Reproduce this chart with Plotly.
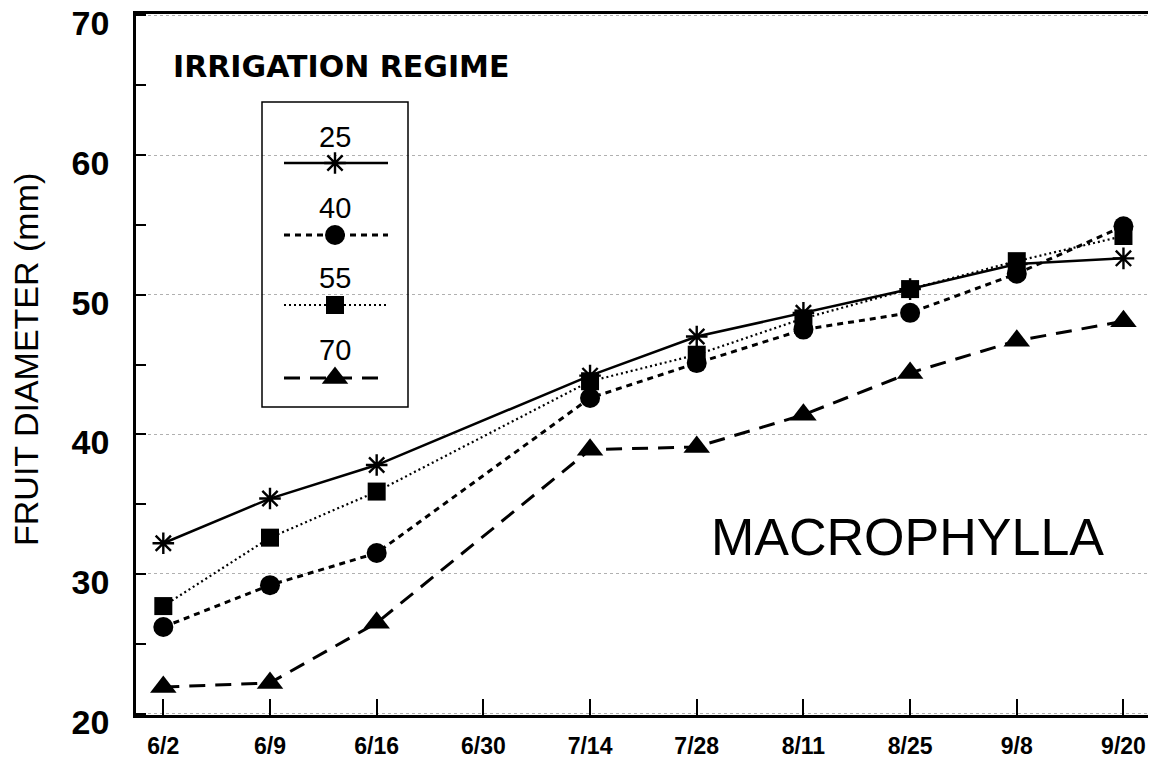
import plotly.graph_objects as go

dates = ["6/2", "6/9", "6/16", "6/30", "7/14", "7/28", "8/11", "8/25", "9/8", "9/20"]
reg25 = [32.2, 35.4, 37.8, None, 44.2, 47.0, 48.7, 50.4, 52.2, 52.6]
reg40 = [26.2, 29.2, 31.5, None, 42.6, 45.1, 47.5, 48.7, 51.5, 54.9]
reg55 = [27.7, 32.6, 35.9, None, 43.8, 45.7, 48.3, 50.4, 52.4, 54.2]
reg70 = [21.9, 22.2, 26.5, None, 38.9, 39.1, 41.4, 44.4, 46.7, 48.1]
regime_names = ["25", "40", "55", "70"]
y_ticks = [20, 30, 40, 50, 60, 70]

FONT = "Liberation Sans, Arial, sans-serif"

styles = [
    dict(dash="solid", width=2.5, symbol="asterisk-open", size=18, lw=2.4),
    dict(dash="6px,5px", width=3, symbol="circle", size=20, lw=0),
    dict(dash="2px,3px", width=2.2, symbol="square", size=18, lw=0),
    dict(dash="16px,10px", width=3, symbol="triangle-up", size=23, lw=0),
]
series = [reg25, reg40, reg55, reg70]

fig = go.Figure()
for name, vals, st in zip(regime_names, series, styles):
    fig.add_trace(go.Scatter(
        x=dates, y=vals, mode="lines+markers", name=name, connectgaps=True,
        line=dict(color="black", width=st["width"], dash=st["dash"]),
        marker=dict(symbol=st["symbol"], size=st["size"], color="black",
                    line=dict(color="black", width=st["lw"])),
        showlegend=False,
    ))

# page body has an 8px margin: figure is placed at (8, 8) in the window
OFF = 8
W, H = 1156 - OFF, 764 - OFF
# plot area in figure pixels
L0, L1 = 136 - OFF, 1148 - OFF
T0, T1 = 14 - OFF, 715 - OFF


def px(x):
    return x - OFF


leg_label_y = [137, 208, 278, 350]
leg_line_y = [163, 235, 305, 378]
for name, st, ly, sy in zip(regime_names, styles, leg_label_y, leg_line_y):
    fig.add_trace(go.Scatter(
        x=[px(284), px(335), px(388)], y=[px(sy)] * 3, xaxis="x2", yaxis="y2",
        mode="lines", line=dict(color="black", width=st["width"], dash=st["dash"]),
        showlegend=False, hoverinfo="skip"))
    fig.add_trace(go.Scatter(
        x=[px(335)], y=[px(sy)], xaxis="x2", yaxis="y2", mode="markers",
        marker=dict(symbol=st["symbol"], size=st["size"], color="black",
                    line=dict(color="black", width=st["lw"])),
        showlegend=False, hoverinfo="skip"))
    fig.add_annotation(x=px(335), y=px(ly), xref="x2", yref="y2", text=name,
                       showarrow=False,
                       font=dict(family=FONT, size=29, color="black"))

fig.add_shape(type="rect", x0=px(262), x1=px(408), y0=px(102), y1=px(407),
              xref="x2", yref="y2", line=dict(color="black", width=1.5))
fig.add_annotation(x=px(171), y=px(66), xref="x2", yref="y2", text="IRRIGATION REGIME",
                   showarrow=False, xanchor="left",
                   font=dict(family="DejaVu Sans, sans-serif", size=30, color="black",
                             weight="bold"))
fig.add_annotation(x=px(1106), y=px(537), xref="x2", yref="y2", text="MACROPHYLLA",
                   showarrow=False, xanchor="right",
                   font=dict(family=FONT, size=52, color="black"))
fig.add_annotation(x=(px(26) - L0) / (L1 - L0), y=(T1 - px(360)) / (T1 - T0),
                   xref="paper", yref="paper", text="FRUIT DIAMETER (mm)",
                   textangle=-90, showarrow=False, xanchor="center", yanchor="middle",
                   font=dict(family=FONT, size=34, color="black"))

fig.update_layout(
    width=W, height=H,
    margin=dict(l=L0, r=W - L1, t=T0, b=H - T1, autoexpand=False),
    paper_bgcolor="white", plot_bgcolor="white",
    font=dict(family=FONT, color="black"),
    xaxis=dict(type="category", categoryorder="array", categoryarray=dates,
               range=[-0.256, 9.23], showgrid=False, zeroline=False, automargin=False,
               showline=True, linecolor="black", linewidth=2.5, mirror=True,
               ticks="inside", ticklen=16, tickwidth=2, tickcolor="black",
               tickfont=dict(family=FONT, size=23, color="black", weight="bold"),
               ticklabelstandoff=9),
    yaxis=dict(range=[19.9, 70.1], tickvals=y_ticks, showgrid=True, automargin=False,
               gridcolor="#b0b0b0", griddash="dot", gridwidth=1, zeroline=False,
               showline=True, linecolor="black", linewidth=2.5, mirror=True,
               ticks="inside", ticklen=10, tickwidth=2, tickcolor="black",
               minor=dict(tickvals=[25, 35, 45, 55, 65], ticks="inside", ticklen=10,
                          tickwidth=2, tickcolor="black", showgrid=False),
               tickfont=dict(family=FONT, size=34, color="black", weight="bold"),
               ticklabelstandoff=17, ticklabelshift=8, ticklabeloverflow="allow"),
    xaxis2=dict(overlaying="x", range=[L0, L1], visible=False, fixedrange=True),
    yaxis2=dict(overlaying="y", range=[T1, T0], visible=False, fixedrange=True),
)

fig.write_html("out.html")
